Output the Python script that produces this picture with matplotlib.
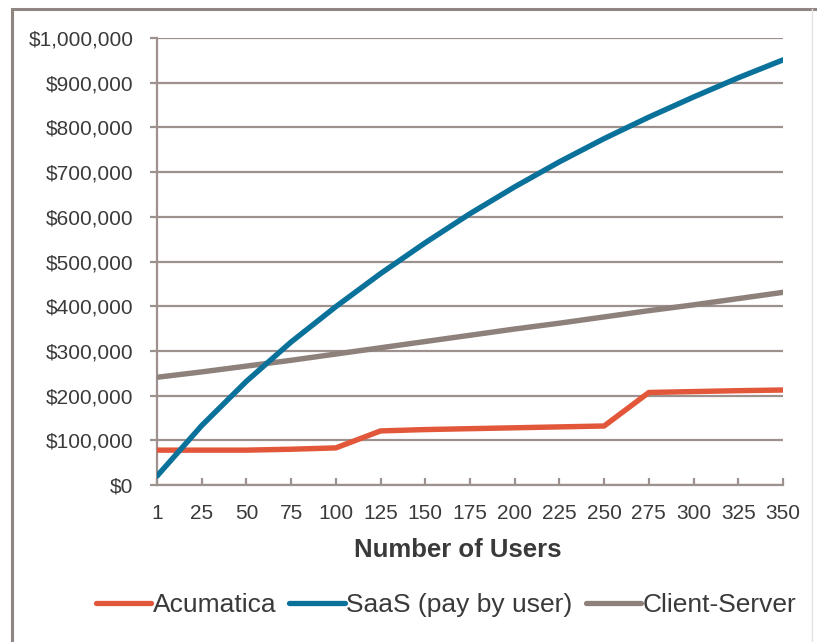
import matplotlib.pyplot as plt
from matplotlib.patches import Rectangle
from matplotlib.ticker import FuncFormatter

plt.rcParams['font.family'] = ['Liberation Sans', 'DejaVu Sans']

users = ['1', '25', '50', '75', '100', '125', '150', '175', '200',
         '225', '250', '275', '300', '325', '350']
acumatica = [78000, 78000, 78000, 80000, 83000, 121000, 124000, 126000,
             128000, 130000, 132000, 207000, 209000, 211000, 212500]
saas = [20000, 133000, 232000, 320000, 399000, 473000, 542000, 607000,
        667000, 723000, 775000, 823000, 868000, 911000, 951000]
client_server = [241000, 253000, 266000, 279000, 293000, 307000, 321000,
                 335000, 349000, 362000, 376000, 390000, 403000, 417000, 431000]

grid_col = '#9c918d'
text_col = '#3a3a3a'

fig = plt.figure(figsize=(8.17, 6.42), dpi=100)
ax = fig.add_axes([157 / 817, 1 - 485 / 642, (783 - 157) / 817, (485 - 38) / 642])

x = list(range(len(users)))
ax.plot(x, acumatica, color='#e2573a', lw=3.9, solid_capstyle='round',
        solid_joinstyle='round', label='Acumatica', zorder=3)
ax.plot(x, saas, color='#0a719a', lw=3.9, solid_capstyle='round',
        solid_joinstyle='round', label='SaaS (pay by user)', zorder=4)
ax.plot(x, client_server, color='#8e817c', lw=3.9, solid_capstyle='round',
        solid_joinstyle='round', label='Client-Server', zorder=3)

ax.set_xlim(0, len(users) - 1)
ax.set_ylim(0, 1000000)
ax.set_yticks(range(0, 1000001, 100000))
ax.yaxis.set_major_formatter(FuncFormatter(lambda v, p: f'${int(v):,}'))
ax.set_xticks(x)
ax.set_xticklabels(users)

ax.grid(axis='y', color=grid_col, lw=1.6, zorder=1)
ax.set_axisbelow(True)
for s in ['top', 'right']:
    ax.spines[s].set_visible(False)
for s in ['left', 'bottom']:
    ax.spines[s].set_color(grid_col)
    ax.spines[s].set_linewidth(1.6)

ax.tick_params(axis='y', direction='out', length=5, width=1.6, color=grid_col,
               labelsize=15, labelcolor=text_col, pad=12)
ax.tick_params(axis='x', direction='in', length=5, width=1.6, color=grid_col,
               labelsize=15, labelcolor=text_col, pad=14)

ax.set_xlabel('Number of Users', fontsize=18.5, fontweight='bold',
              color=text_col)
ax.xaxis.set_label_coords(0.481, -0.118)
ax.xaxis.label.set_va('top')

leg = fig.legend(loc='center', bbox_to_anchor=(446 / 817, 1 - 605 / 642), ncol=3,
                 frameon=False, fontsize=19, handlelength=2.1, handletextpad=0.05,
                 columnspacing=0.5, labelcolor=text_col)
for h in leg.legend_handles:
    h.set_linewidth(3.8)

# outer chart frame
fig.patches.append(Rectangle((12 / 817, -0.2), 2.0, 1.2 - 9 / 642,
                             transform=fig.transFigure, fill=False,
                             edgecolor='#8f8682', lw=2.2))
fig.lines.append(plt.Line2D([812 / 817, 812 / 817], [0, 1 - 9 / 642],
                            transform=fig.transFigure, color='#e4e0de', lw=1))

fig.savefig('out.png', dpi=100)
